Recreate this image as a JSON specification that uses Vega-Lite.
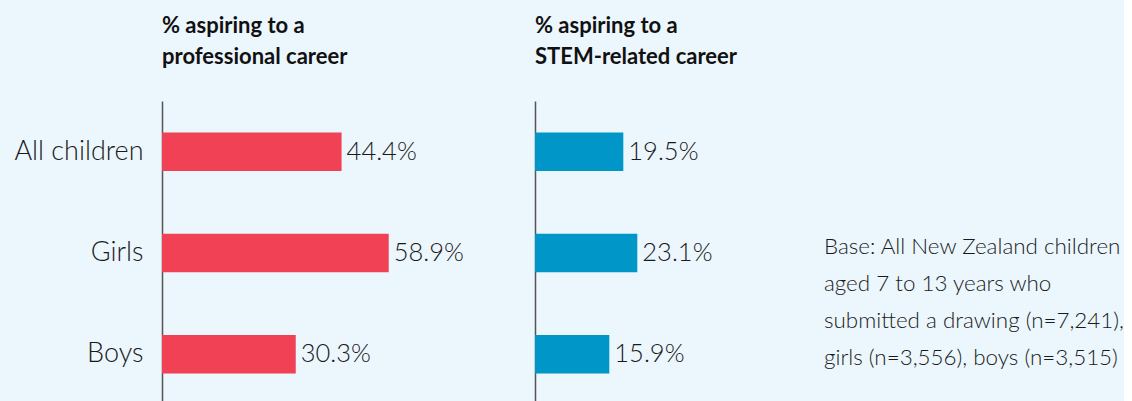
{
  "$schema": "https://vega.github.io/schema/vega-lite/v6.json",
  "background": "#ECF6FD",
  "padding": {"left": 0, "top": 15, "right": 0, "bottom": 0},
  "autosize": {"type": "pad"},
  "config": {
    "font": "Lato",
    "view": {"stroke": null},
    "axis": {"grid": false},
    "title": {"anchor": "start", "frame": "group", "fontSize": 22, "fontWeight": "bold", "lineHeight": 31, "color": "#111111", "offset": 32}
  },
  "datasets": {
    "careers": [
      {"group": "All children", "measure": "professional", "pct": 44.4},
      {"group": "Girls", "measure": "professional", "pct": 58.9},
      {"group": "Boys", "measure": "professional", "pct": 30.3},
      {"group": "All children", "measure": "stem", "pct": 19.5},
      {"group": "Girls", "measure": "stem", "pct": 23.1},
      {"group": "Boys", "measure": "stem", "pct": 15.9}
    ],
    "note": [
      {"line": 1, "text": "Base: All New Zealand children"},
      {"line": 2, "text": "aged 7 to 13 years who"},
      {"line": 3, "text": "submitted a drawing (n=7,241),"},
      {"line": 4, "text": "girls (n=3,556), boys (n=3,515)"}
    ]
  },
  "spacing": 20,
  "hconcat": [
    {
      "width": 353,
      "height": 304,
      "title": {"text": ["% aspiring to a", "professional career"]},
      "data": {"name": "careers"},
      "transform": [
        {"filter": "datum.measure === 'professional'"},
        {"calculate": "format(datum.pct, '.1f') + '%'", "as": "label"}
      ],
      "encoding": {
        "y": {
          "field": "group", "type": "nominal", "sort": ["All children", "Girls", "Boys"],
          "scale": {"paddingInner": 0.62, "paddingOuter": 0.31},
          "axis": {"title": null, "domain": true, "domainColor": "#555555", "domainWidth": 1.5, "ticks": false,
                   "labelFontSize": 27, "labelFontWeight": 300, "labelColor": "#1a1a1a", "labelPadding": 19,
                   "minExtent": 162, "maxExtent": 162, "labelLimit": 300}
        }
      },
      "layer": [
        {
          "mark": {"type": "bar", "color": "#F04155"},
          "encoding": {
            "x": {"field": "pct", "type": "quantitative", "scale": {"domain": [-10.84, 97.74], "nice": false, "zero": false}, "axis": null},
            "x2": {"datum": -10.84}
          }
        },
        {
          "mark": {"type": "text", "align": "left", "baseline": "middle", "dx": 5, "fontSize": 25.5, "fontWeight": 300, "color": "#1a1a1a"},
          "encoding": {
            "x": {"field": "pct", "type": "quantitative"},
            "text": {"field": "label"}
          }
        }
      ]
    },
    {
      "width": 269,
      "height": 304,
      "title": {"text": ["% aspiring to a", "STEM-related career"]},
      "data": {"name": "careers"},
      "transform": [
        {"filter": "datum.measure === 'stem'"},
        {"calculate": "format(datum.pct, '.1f') + '%'", "as": "label"}
      ],
      "encoding": {
        "y": {
          "field": "group", "type": "nominal", "sort": ["All children", "Girls", "Boys"],
          "scale": {"paddingInner": 0.62, "paddingOuter": 0.31},
          "axis": {"title": null, "domain": true, "domainColor": "#555555", "domainWidth": 1.5, "ticks": false,
                   "labels": false, "minExtent": 0, "maxExtent": 0}
        }
      },
      "layer": [
        {
          "mark": {"type": "bar", "color": "#0096C8"},
          "encoding": {
            "x": {"field": "pct", "type": "quantitative", "scale": {"domain": [-3.21, 65.96], "nice": false, "zero": false}, "axis": null},
            "x2": {"datum": -3.21}
          }
        },
        {
          "mark": {"type": "text", "align": "left", "baseline": "middle", "dx": 5, "fontSize": 25.5, "fontWeight": 300, "color": "#1a1a1a"},
          "encoding": {
            "x": {"field": "pct", "type": "quantitative"},
            "text": {"field": "label"}
          }
        }
      ]
    },
    {
      "width": 300,
      "height": 304,
      "data": {"name": "note"},
      "mark": {"type": "text", "align": "left", "baseline": "alphabetic", "fontSize": 22.4, "fontWeight": 300, "color": "#1a1a1a"},
      "encoding": {
        "x": {"value": 0},
        "y": {"field": "line", "type": "quantitative", "scale": {"domain": [-3.135, 5.081], "reverse": true, "nice": false, "zero": false}, "axis": null},
        "text": {"field": "text"}
      }
    }
  ]
}
